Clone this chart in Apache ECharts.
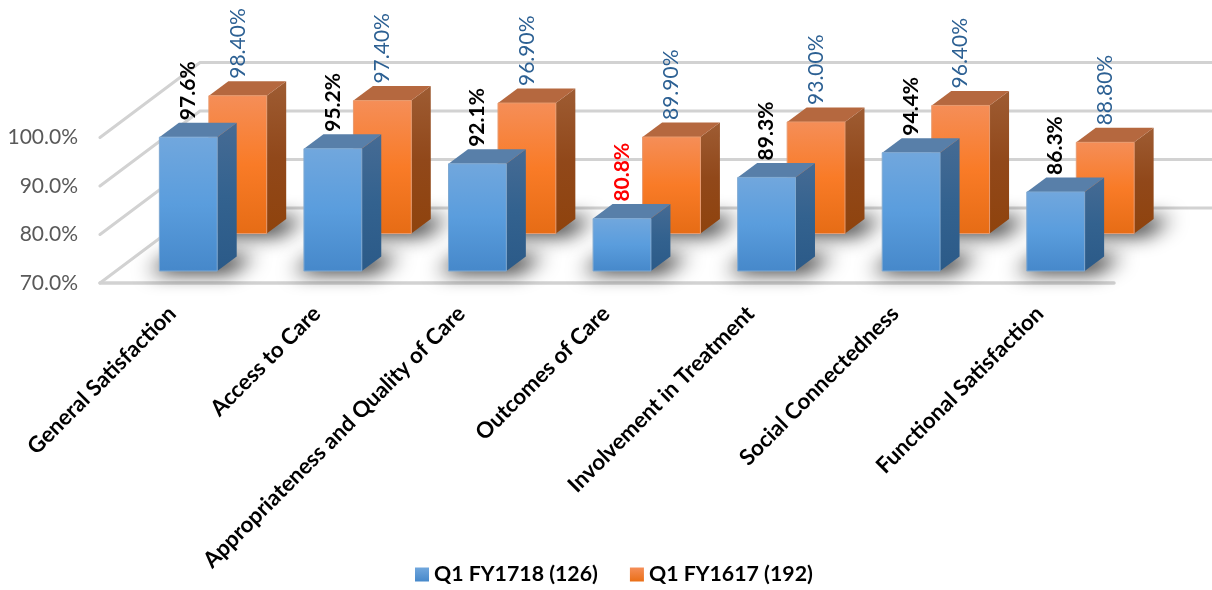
<!DOCTYPE html>
<html>
<head>
<meta charset="utf-8">
<style>html,body{margin:0;padding:0;background:#fff}#chart{width:1212px;height:590px}</style>
<script src="https://cdn.jsdelivr.net/npm/echarts@6/dist/echarts.min.js"></script>
</head>
<body>
<div id="chart"></div>
<script>
const categories = ['General Satisfaction','Access to Care','Appropriateness and Quality of Care','Outcomes of Care','Involvement in Treatment','Social Connectedness','Functional Satisfaction'];
const fy1718 = [97.6, 95.2, 92.1, 80.8, 89.3, 94.4, 86.3];
const fy1617 = [98.4, 97.4, 96.9, 89.9, 93.0, 96.4, 88.8];
const yTicks = [70, 80, 90, 100];
const flaggedCategories = ['Outcomes of Care'];
const FONT = 'Lato';

// Oblique projection: each unit of depth moves a point right and up by these pixels.
const WALL_DX = 100, WALL_DY = -75;
const BAR_DX = 19.5, BAR_DY = -14.5;
const FRONT_ROW = {dx: 16, dy: -12};
const BACK_ROW = {dx: 65.5, dy: -49.5};
const BAR_RATIO = 0.4;
// The casting polygon sits off-canvas so only its blurred shadow lands on the floor.
const SHADOW_SHIFT = 3000;

function vGrad(stops) {
  return {type: 'linear', x: 0, y: 0, x2: 0, y2: 1,
    colorStops: stops.map((c, i) => ({offset: i / (stops.length - 1), color: c}))};
}
const BLUE = {
  front: vGrad(['#71a7dd', '#5a9ddd', '#4688ca']), frontEdge: '#7fa9d2',
  side: vGrad(['#466b94', '#33628f', '#2b5a88']), top: '#587fa9'
};
const ORANGE = {
  front: vGrad(['#f58e58', '#f97b27', '#e66c15']), frontEdge: '#e89a6e',
  side: vGrad(['#9e5c33', '#91481a', '#8f430d']), top: '#b5683f'
};

function barRenderer(values, row, palette, labelDigits, labelColor, labelWeight, labelSize) {
  return function (params, api) {
    const i = params.dataIndex;
    const value = values[i];
    const cat = api.size([1, 0])[0];
    const w = cat * BAR_RATIO;
    const topPt = api.coord([i, value]);
    const basePt = api.coord([i, yTicks[0]]);
    const l = topPt[0] + row.dx - w / 2, r = l + w;
    const t = topPt[1] + row.dy, b = basePt[1] + row.dy;
    const dx = BAR_DX, dy = BAR_DY;
    const color = flaggedCategories.includes(categories[i]) && labelColor === '#000' ? '#ff0000' : labelColor;
    return {
      type: 'group',
      children: [
        {type: 'polygon', shape: {points: [[r, t], [r + dx, t + dy], [r + dx, b + dy], [r, b]]}, style: {fill: palette.side}},
        {type: 'polygon', shape: {points: [[l, t], [l + dx, t + dy], [r + dx, t + dy], [r, t]]}, style: {fill: palette.top}},
        {type: 'rect', shape: {x: l, y: t, width: w, height: b - t}, style: {fill: palette.front, stroke: palette.frontEdge, lineWidth: 1}},
        {type: 'text', x: (l + r) / 2, y: t - 17, rotation: Math.PI / 2,
          style: {text: value.toFixed(labelDigits) + '%', fill: color, font: labelWeight + ' ' + labelSize + 'px ' + FONT, textAlign: 'left', textVerticalAlign: 'middle'}}
      ]
    };
  };
}

function shadowRenderer(values, row) {
  return function (params, api) {
    const i = params.dataIndex;
    const cat = api.size([1, 0])[0];
    const w = cat * BAR_RATIO;
    const p = api.coord([i, yTicks[0]]);
    const l = p[0] + row.dx - w / 2 - SHADOW_SHIFT, r = l + w, b = p[1] + row.dy;
    return {
      type: 'polygon',
      shape: {points: [[l - 11, b + 1], [r + 12, b + 1], [r + 38, b - 15], [l + 14, b - 15]]},
      style: {fill: '#000', shadowBlur: 20, shadowColor: 'rgba(0,0,0,0.95)', shadowOffsetX: SHADOW_SHIFT}
    };
  };
}

// Floor edge, side wall and back wall gridlines for every value tick.
function wallRenderer(params, api) {
  const tick = yTicks[params.dataIndex];
  const left = params.coordSys.x, right = left + params.coordSys.width + 2;
  const y = api.coord([0, tick])[1];
  const back = [[left, y], [left + WALL_DX, y + WALL_DY], [right + WALL_DX, y + WALL_DY]];
  const children = [{type: 'polyline', shape: {points: back}, style: {fill: 'none', stroke: '#d2d2d2', lineWidth: 3, lineCap: 'round'}}];
  if (tick === yTicks[0]) {
    children.push({type: 'line', shape: {x1: left, y1: y, x2: right, y2: y}, style: {stroke: '#d2d2d2', lineWidth: 3.5, lineCap: 'round'}});
  }
  return {type: 'group', children};
}

const seq = categories.map((_, i) => i);
const chart = echarts.init(document.getElementById('chart'), null, {renderer: 'canvas'});
chart.setOption({
  animation: false,
  backgroundColor: '#fff',
  textStyle: {fontFamily: FONT},
  grid: {left: 100, top: 137.5, width: 1012, height: 145.5},
  legend: {
    data: [
      {name: 'Q1 FY1718 (126)', itemStyle: {color: vGrad(['#71a7dd', '#4688ca'])}},
      {name: 'Q1 FY1617 (192)', itemStyle: {color: vGrad(['#f58e58', '#ea6f17'])}}
    ],
    left: 410, top: 559, icon: 'rect', itemWidth: 14, itemHeight: 14, itemGap: 32,
    selectedMode: false,
    textStyle: {fontFamily: FONT, fontWeight: 'bold', fontSize: 21.3, color: '#000'}
  },
  xAxis: {
    type: 'category', data: categories,
    axisLine: {show: false}, axisTick: {show: false}, splitLine: {show: false},
    axisLabel: {interval: 0, rotate: 45, margin: 27, color: '#000', fontWeight: 'bold', fontSize: 22.2, fontFamily: FONT}
  },
  yAxis: {
    type: 'value', min: yTicks[0], max: yTicks[yTicks.length - 1], interval: 10,
    axisLine: {show: false}, axisTick: {show: false}, splitLine: {show: false},
    axisLabel: {margin: 22, color: '#595959', fontSize: 21, fontFamily: FONT, formatter: v => v.toFixed(1) + '%'}
  },
  series: [
    {type: 'custom', name: 'walls', silent: true, renderItem: wallRenderer, data: yTicks.map((_, i) => [0, yTicks[i]]), encode: {x: 0, y: 1}, z: 1},
    {type: 'custom', name: 'back shadow', silent: true, renderItem: shadowRenderer(fy1617, BACK_ROW), data: seq.map(i => [i, fy1617[i]]), z: 2},
    {type: 'custom', name: 'Q1 FY1617 (192)', itemStyle: {color: '#f97b27'},
      renderItem: barRenderer(fy1617, BACK_ROW, ORANGE, 2, '#2c6093', 'normal', 21), data: seq.map(i => [i, fy1617[i]]), z: 3},
    {type: 'custom', name: 'front shadow', silent: true, renderItem: shadowRenderer(fy1718, FRONT_ROW), data: seq.map(i => [i, fy1718[i]]), z: 4},
    {type: 'custom', name: 'Q1 FY1718 (126)', itemStyle: {color: '#5a9ddd'},
      renderItem: barRenderer(fy1718, FRONT_ROW, BLUE, 1, '#000', 'bold', 21), data: seq.map(i => [i, fy1718[i]]), z: 5}
  ]
});
</script>
</body>
</html>
